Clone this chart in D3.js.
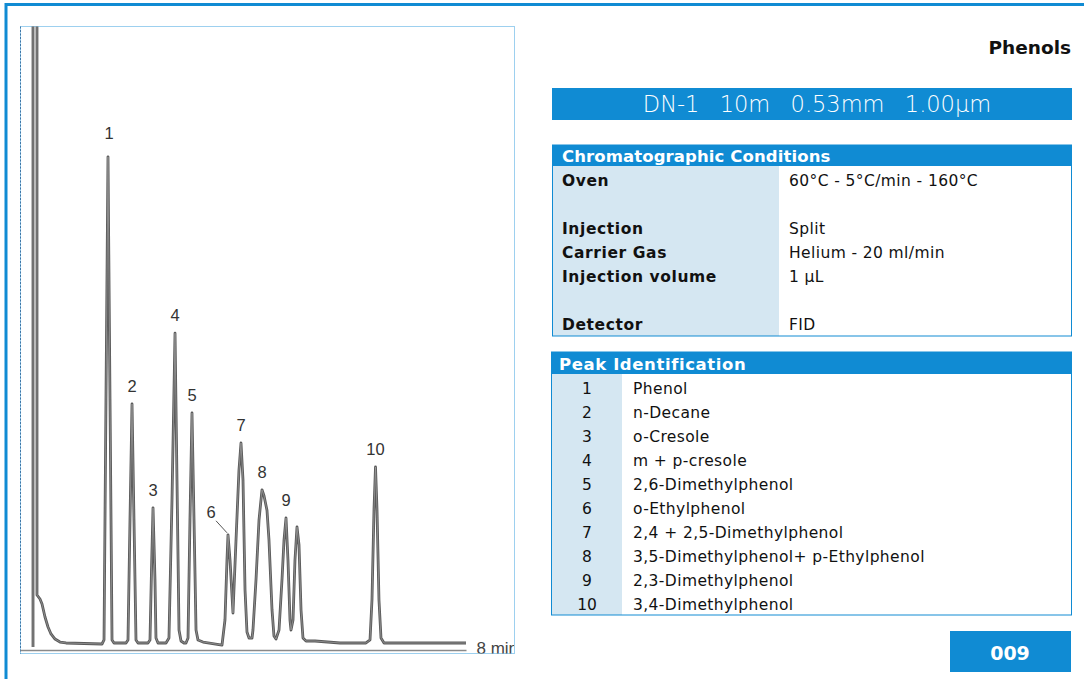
<!DOCTYPE html>
<html>
<head>
<meta charset="utf-8">
<script src="https://cdn.jsdelivr.net/npm/d3@7/dist/d3.min.js"></script>
<style>
  html, body { margin: 0; padding: 0; background: #fff; }
  svg { display: block; }
  text { white-space: pre; }
</style>
</head>
<body>
<svg id="chart" width="1084" height="679"></svg>
<script>
// ---------------- DATA ----------------
// Chromatogram trace: retention time (min) and detector signal (% of scale)
const traceTime = [
  0.268, 0.268, 0.339, 0.339, 0.393, 0.429, 0.482, 0.536, 0.589, 0.661, 0.75, 0.857, 1.5,
  1.536, 1.571, 1.607, 1.643, 1.679, 1.714,
  1.929, 1.964, 2.0, 2.036, 2.071, 2.107, 2.143,
  2.321, 2.357, 2.384, 2.411, 2.446, 2.464, 2.5,
  2.643, 2.696, 2.75, 2.804, 2.839, 2.875, 2.911, 2.964,
  3.0, 3.036, 3.071, 3.107, 3.143, 3.179, 3.214, 3.304,
  3.643, 3.696, 3.732, 3.75, 3.786, 3.839,
  3.893, 3.946, 3.982, 4.018, 4.054, 4.089, 4.125, 4.179,
  4.196, 4.25, 4.304, 4.357, 4.393, 4.446, 4.482, 4.536, 4.571, 4.607,
  4.661, 4.714, 4.75, 4.786, 4.821, 4.857, 4.875, 4.911, 4.946, 4.982, 5.018, 5.054, 5.089, 5.143,
  5.304, 5.75, 6.196, 6.214, 6.286, 6.321, 6.357, 6.384, 6.411, 6.446, 6.482, 6.536, 6.732, 8.0
];
const traceSignal = [
  0.5, 105, 105, 9.17, 8.5, 7.67, 5.5, 3.83, 2.67, 1.83, 1.33, 1.17, 1.0,
  1.67, 41.7, 82.2, 41.7, 1.67, 1.17,
  1.17, 1.67, 21.7, 41.0, 21.7, 1.67, 1.17,
  1.17, 1.67, 13.3, 23.7, 11.7, 2.0, 1.17,
  1.17, 2.0, 25, 52.8, 28.3, 3.33, 1.5, 1.17,
  1.17, 2.0, 21.7, 39.5, 21.7, 3.33, 1.67, 1.33,
  0.83, 5, 15, 19.2, 15, 6.17,
  18.3, 30, 34.5, 28.3, 10, 3, 2.0, 2.0,
  3.33, 11.7, 21.7, 26.7, 25.7, 23.3, 18.3, 6.67, 2.33, 1.83,
  3.33, 11.7, 18.3, 22, 15, 5, 3.33, 5, 15, 20.5, 17.5, 6.67, 2.0, 1.5,
  1.5, 1.17, 1.17, 1.17, 1.67, 8.33, 23.3, 30.5, 23.3, 8.33, 2.0, 1.17, 1.17, 1.17
];

// Peak labels
const peakNumbers = ["1", "2", "3", "4", "5", "6", "7", "8", "9", "10"];
const peakTimes   = [1.607, 2.036, 2.411, 2.804, 3.107, 3.75, 3.982, 4.357, 4.786, 6.384];
const peakHeights = [82.2, 41.0, 23.7, 52.8, 39.5, 19.2, 34.5, 26.7, 22.0, 30.5];

// Axis
const xTickValues = [8];
const xTickLabels = ["8 min"];

// Text panels
const pageTitle = "Phenols";
const columnSpec = "DN-1  10m  0.53mm  1.00µm";
const condHeader = "Chromatographic Conditions";
const condLabels = ["Oven", "", "Injection", "Carrier Gas", "Injection volume", "", "Detector"];
const condValues = ["60°C - 5°C/min - 160°C", "", "Split", "Helium - 20 ml/min", "1 µL", "", "FID"];
const peakHeader = "Peak Identification";
const peakNames = [
  "Phenol", "n-Decane", "o-Cresole", "m + p-cresole", "2,6-Dimethylphenol",
  "o-Ethylphenol", "2,4 + 2,5-Dimethylphenol", "3,5-Dimethylphenol+ p-Ethylphenol",
  "2,3-Dimethylphenol", "3,4-Dimethylphenol"
];
const appNumber = "009";

// ---------------- DRAW ----------------
const BLUE = "#108bd3";
const LIGHT = "#d5e7f2";
const svg = d3.select("#chart");

// outer frame
svg.append("path")
  .attr("d", "M6,679 V4.5 H1084")
  .attr("fill", "none").attr("stroke", BLUE).attr("stroke-width", 3);

// chart box
const box = { x: 20.5, y: 26.5, w: 494, h: 627 };
svg.append("rect")
  .attr("x", box.x).attr("y", box.y).attr("width", box.w).attr("height", box.h)
  .attr("fill", "#fff").attr("stroke", "#9dd0ef").attr("stroke-width", 1);
svg.append("line")
  .attr("x1", box.x).attr("x2", box.x).attr("y1", box.y).attr("y2", box.y + box.h)
  .attr("stroke", "#3f76a6").attr("stroke-width", 1).attr("stroke-dasharray", "2,1.5");

svg.append("clipPath").attr("id", "plotclip")
  .append("rect").attr("x", box.x).attr("y", box.y).attr("width", box.w - 0.5).attr("height", box.h);

const x = d3.scaleLinear().domain([0, 8]).range([18, 466]);
const y = d3.scaleLinear().domain([0, 100]).range([650, 50]);

const plot = svg.append("g").attr("clip-path", "url(#plotclip)");

// x axis
const axis = d3.axisBottom(x)
  .tickValues(xTickValues)
  .tickFormat((d, i) => xTickLabels[i])
  .tickSize(0).tickSizeOuter(0);
const axG = plot.append("g").attr("transform", `translate(0,${y(0)})`).call(axis);
axG.select(".domain").attr("stroke", "#8a8a8a").attr("stroke-width", 1.4);
axG.selectAll("text")
  .attr("text-anchor", "start").attr("dx", 10).attr("y", 0).attr("dy", 3.5)
  .attr("fill", "#444").attr("font-family", "Liberation Sans, Arial, sans-serif").attr("font-size", 17);

// trace
const pts = traceTime.map((t, i) => [t, traceSignal[i]]);
const line = d3.line().x(d => x(d[0])).y(d => y(d[1]));
plot.append("path").attr("d", line(pts))
  .attr("fill", "none").attr("stroke", "#5a5a5a").attr("stroke-width", 2.8)
  .attr("stroke-linejoin", "round");
plot.append("path").attr("d", line(pts))
  .attr("fill", "none").attr("stroke", "#a0a0a0").attr("stroke-width", 0.7)
  .attr("stroke-linejoin", "round");

// peak labels
const LABFONT = "Liberation Sans, Arial, sans-serif";
peakNumbers.forEach((lab, i) => {
  const px = x(peakTimes[i]), py = y(peakHeights[i]);
  if (lab === "6") {
    plot.append("line")
      .attr("x1", px - 12).attr("y1", py - 14).attr("x2", px - 1).attr("y2", py - 2)
      .attr("stroke", "#555").attr("stroke-width", 1);
    plot.append("text").attr("x", px - 17).attr("y", py - 17)
      .attr("text-anchor", "middle").attr("fill", "#333")
      .attr("font-family", LABFONT).attr("font-size", 16.5)
      .text(lab);
  } else {
    plot.append("text").attr("x", px + (lab === "1" ? 1 : 0)).attr("y", py - (lab === "1" ? 18 : 12))
      .attr("text-anchor", "middle").attr("fill", "#333")
      .attr("font-family", LABFONT).attr("font-size", 16.5)
      .text(lab);
  }
});

// ---------------- RIGHT PANEL ----------------
const FONT = "DejaVu Sans, Verdana, sans-serif";
svg.append("text").attr("x", 1071).attr("y", 54).attr("text-anchor", "end")
  .attr("font-family", FONT).attr("font-weight", "bold").attr("font-size", 18.5)
  .attr("fill", "#111").text(pageTitle);

// column spec bar
svg.append("rect").attr("x", 552).attr("y", 88).attr("width", 520).attr("height", 32).attr("fill", BLUE);
svg.append("text").attr("x", 817).attr("y", 112).attr("text-anchor", "middle")
  .attr("font-family", FONT).attr("font-weight", 300).attr("font-size", 22.5)
  .attr("word-spacing", 3)
  .attr("fill", "#fff").text(columnSpec);

// conditions table
const condTop = 145, headH = 21, rowH = 24, condBodyTop = condTop + headH;
const condBottom = 336;
svg.append("rect").attr("x", 552).attr("y", condBodyTop).attr("width", 227).attr("height", condBottom - condBodyTop).attr("fill", LIGHT);
svg.append("rect").attr("x", 552.5).attr("y", condTop).attr("width", 519).attr("height", condBottom - condTop)
  .attr("fill", "none").attr("stroke", BLUE).attr("stroke-width", 1);
svg.append("rect").attr("x", 552).attr("y", condTop).attr("width", 520).attr("height", headH).attr("fill", BLUE);
svg.append("text").attr("x", 562).attr("y", condTop + 17)
  .attr("font-family", FONT).attr("font-weight", "bold").attr("font-size", 16.5)
  .attr("letter-spacing", 0.1).attr("fill", "#fff").text(condHeader);
condLabels.forEach((lab, i) => {
  const cy = 180 + i * rowH;
  if (lab) svg.append("text").attr("x", 562).attr("y", cy + 5.5)
    .attr("font-family", FONT).attr("font-weight", "bold").attr("font-size", 15.5)
    .attr("letter-spacing", 0.6).attr("fill", "#111").text(lab);
  if (condValues[i]) svg.append("text").attr("x", 789).attr("y", cy + 5.5)
    .attr("font-family", FONT).attr("font-size", 15.5).attr("letter-spacing", 0.4)
    .attr("fill", "#111").text(condValues[i]);
});

// peak identification table
const pkTop = 352, pkBodyTop = pkTop + 22, pkBottom = 615;
svg.append("rect").attr("x", 552).attr("y", pkBodyTop).attr("width", 70).attr("height", pkBottom - pkBodyTop).attr("fill", LIGHT);
svg.append("rect").attr("x", 551.5).attr("y", pkTop).attr("width", 520).attr("height", pkBottom - pkTop)
  .attr("fill", "none").attr("stroke", BLUE).attr("stroke-width", 1);
svg.append("rect").attr("x", 551).attr("y", pkTop).attr("width", 521).attr("height", 22).attr("fill", BLUE);
svg.append("text").attr("x", 559).attr("y", pkTop + 18)
  .attr("font-family", FONT).attr("font-weight", "bold").attr("font-size", 16.5)
  .attr("letter-spacing", 0.6).attr("fill", "#fff").text(peakHeader);
peakNames.forEach((nm, i) => {
  const cy = 388 + i * rowH;
  svg.append("text").attr("x", 587).attr("y", cy + 5.5).attr("text-anchor", "middle")
    .attr("font-family", FONT).attr("font-size", 15.5).attr("fill", "#111").text(peakNumbers[i]);
  svg.append("text").attr("x", 633).attr("y", cy + 5.5)
    .attr("font-family", FONT).attr("font-size", 15.5).attr("letter-spacing", 0.4)
    .attr("fill", "#111").text(nm);
});

// application number
svg.append("rect").attr("x", 950).attr("y", 631).attr("width", 121).attr("height", 41).attr("fill", BLUE);
svg.append("text").attr("x", 1010).attr("y", 660).attr("text-anchor", "middle")
  .attr("font-family", FONT).attr("font-weight", "bold").attr("font-size", 19)
  .attr("fill", "#fff").text(appNumber);
</script>
</body>
</html>
